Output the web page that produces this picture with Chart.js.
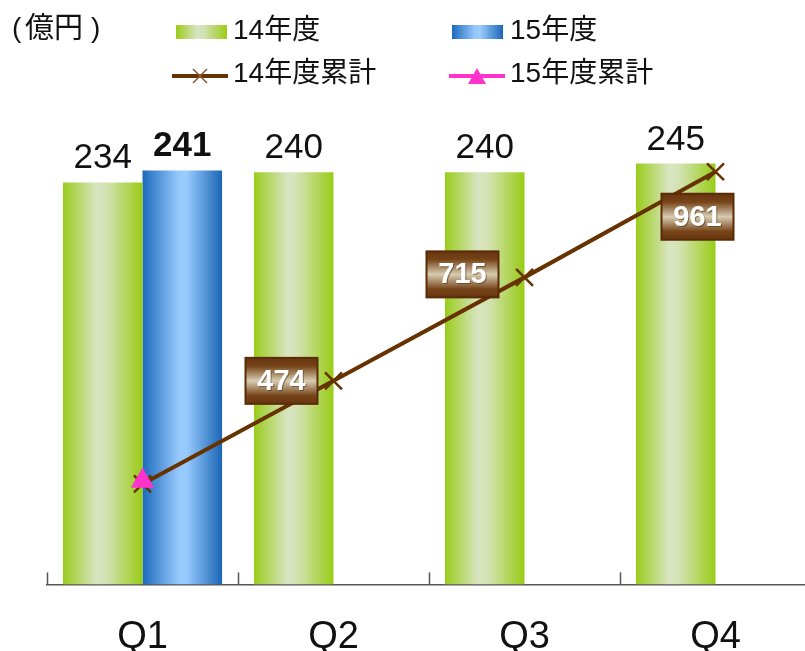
<!DOCTYPE html>
<html lang="ja">
<head>
<meta charset="utf-8">
<script src="https://cdn.jsdelivr.net/npm/chart.js@4.4.1/dist/chart.umd.min.js"></script>
<style>
  html, body { margin: 0; padding: 0; background: #fff; overflow: hidden; }
  #wrap { position: absolute; left: 0; top: 0; width: 830px; height: 710px; }
</style>
</head>
<body>
<div id="wrap"><canvas id="salesChart" width="830" height="710"></canvas></div>
<script>
// quarterly sales (億円) and running totals
const quarters = ['Q1', 'Q2', 'Q3', 'Q4'];
const sales14 = [234, 240, 240, 245];
const sales15 = [241, null, null, null];
const cumulative14 = [234, 474, 715, 961];
const cumulative15 = [241, null, null, null];
const unitLabel = ['(', '億円', ')'];

const FONT = '"Liberation Sans", "Noto Sans CJK JP", sans-serif';
const CAT_PCT = 0.833;

const greenStops = [[0, '#9acc1c'], [0.42, '#d9e4c2'], [0.55, '#d3e2b2'], [1, '#99cc16']];
const blueStops = [[0, '#1c6abd'], [0.45, '#96c8fb'], [0.55, '#99ccff'], [1, '#1b65b6']];
const BROWN = '#663300';
const PINK = '#ff33cc';

// where each running-total box sits relative to its point
const boxOffsets = [null, [-52, 0], [-62, -3], [-18, 45]];

function hGradient(ctx, x0, x1, stops) {
  const g = ctx.createLinearGradient(x0, 0, x1, 0);
  stops.forEach(([p, c]) => g.addColorStop(p, c));
  return g;
}

// bar fill: horizontal gradient across each bar, computed from the category scale
function barFill(stops, side) {
  return (c) => {
    const chart = c.chart;
    const xs = chart.scales && chart.scales.x;
    if (!chart.chartArea || !xs || c.dataIndex === undefined) return stops[1][1];
    const center = xs.getPixelForValue(c.dataIndex);
    const slot = xs.width / quarters.length * CAT_PCT / 2;
    const left = side < 0 ? center - slot : center;
    return hGradient(chart.ctx, left, left + slot, stops);
  };
}

const barLabels = {
  id: 'barLabels',
  afterDatasetsDraw(chart) {
    const ctx = chart.ctx;
    ctx.save();
    ctx.fillStyle = '#111';
    ctx.textAlign = 'center';
    ctx.textBaseline = 'alphabetic';
    chart.data.datasets.forEach((ds, di) => {
      if (ds.type !== 'bar') return;
      ctx.font = (ds.boldLabels ? 'bold ' : '') + '35px ' + FONT;
      chart.getDatasetMeta(di).data.forEach((el, i) => {
        const v = ds.data[i];
        if (v == null) return;
        ctx.fillText(String(v), el.x, el.y - 14);
      });
    });

    // running-total boxes
    const di = chart.data.datasets.findIndex(d => d.label === '14年度累計');
    const meta = chart.getDatasetMeta(di);
    meta.data.forEach((pt, i) => {
      const off = boxOffsets[i];
      if (!off) return;
      const cx = pt.x + off[0], cy = pt.y + off[1];
      const w = 72, h = 46;
      const g = ctx.createLinearGradient(0, cy - h / 2, 0, cy + h / 2);
      g.addColorStop(0, '#683510');
      g.addColorStop(0.18, '#764418');
      g.addColorStop(0.5, '#d8ccb2');
      g.addColorStop(0.82, '#764418');
      g.addColorStop(1, '#683510');
      ctx.fillStyle = g;
      ctx.fillRect(cx - w / 2, cy - h / 2, w, h);
      ctx.strokeStyle = '#5a2c06';
      ctx.lineWidth = 2;
      ctx.strokeRect(cx - w / 2, cy - h / 2, w, h);
      ctx.font = 'bold 29px ' + FONT;
      ctx.textBaseline = 'middle';
      ctx.fillStyle = 'rgba(60,30,0,0.5)';
      ctx.fillText(String(cumulative14[i]), cx + 1, cy + 2);
      ctx.fillStyle = '#fff';
      ctx.fillText(String(cumulative14[i]), cx, cy + 1);
    });
    ctx.restore();
  }
};

// short upward ticks on the category boundaries
const boundaryTicks = {
  id: 'boundaryTicks',
  afterDraw(chart) {
    const xs = chart.scales.x;
    const ctx = chart.ctx;
    const step = xs.getPixelForValue(1) - xs.getPixelForValue(0);
    ctx.save();
    ctx.strokeStyle = '#555';
    ctx.lineWidth = 1.5;
    for (let i = 0; i <= quarters.length; i++) {
      const x = Math.round(xs.getPixelForValue(0) - step / 2 + i * step) + 0.5;
      ctx.beginPath();
      ctx.moveTo(x, xs.top - 12);
      ctx.lineTo(x, xs.top);
      ctx.stroke();
    }
    ctx.restore();
  }
};

const legendBlock = {
  id: 'legendBlock',
  afterDraw(chart) {
    const ctx = chart.ctx;
    ctx.save();
    ctx.fillStyle = '#111';
    ctx.textBaseline = 'middle';
    ctx.textAlign = 'left';
    ctx.font = '28px ' + FONT;
    ctx.fillText(unitLabel[0], 12, 29);
    ctx.font = '29px ' + FONT;
    ctx.fillText(unitLabel[1], 25, 30);
    ctx.font = '28px ' + FONT;
    ctx.fillText(unitLabel[2], 91, 29);

    // bar swatches
    ctx.fillStyle = hGradient(ctx, 176, 227, greenStops);
    ctx.fillRect(176, 25, 51, 14);
    ctx.fillStyle = hGradient(ctx, 452, 503, blueStops);
    ctx.fillRect(452, 25, 51, 14);

    // line swatches
    ctx.lineWidth = 4;
    ctx.strokeStyle = BROWN;
    ctx.beginPath(); ctx.moveTo(172, 76); ctx.lineTo(228, 76); ctx.stroke();
    ctx.lineWidth = 1.5;
    ctx.strokeStyle = '#8a5a30';
    ctx.beginPath();
    ctx.moveTo(193, 69); ctx.lineTo(207, 83);
    ctx.moveTo(207, 69); ctx.lineTo(193, 83);
    ctx.stroke();

    ctx.lineWidth = 4;
    ctx.strokeStyle = PINK;
    ctx.beginPath(); ctx.moveTo(449, 76); ctx.lineTo(505, 76); ctx.stroke();
    ctx.fillStyle = PINK;
    ctx.beginPath();
    ctx.moveTo(477, 68); ctx.lineTo(486, 84); ctx.lineTo(468, 84); ctx.closePath();
    ctx.fill();

    ctx.fillStyle = '#111';
    ctx.fillText('14年度', 233, 31);
    ctx.fillText('15年度', 510, 31);
    ctx.fillText('14年度累計', 233, 74);
    ctx.fillText('15年度累計', 510, 74);
    ctx.restore();
  }
};

new Chart(document.getElementById('salesChart'), {
  type: 'bar',
  data: {
    labels: quarters,
    datasets: [
      {
        type: 'line', label: '15年度累計', data: cumulative15, yAxisID: 'y1', order: 0,
        borderColor: PINK, backgroundColor: PINK, showLine: false,
        pointStyle: 'triangle', pointRadius: 13.5, pointBorderWidth: 0
      },
      {
        type: 'line', label: '14年度累計', data: cumulative14, yAxisID: 'y1', order: 1,
        borderColor: BROWN, borderWidth: 4, backgroundColor: BROWN,
        pointStyle: 'crossRot', pointRadius: 12, pointBorderWidth: 2.5, pointBorderColor: BROWN
      },
      {
        type: 'bar', label: '14年度', data: sales14, yAxisID: 'y', order: 2,
        backgroundColor: barFill(greenStops, -1), borderWidth: 0
      },
      {
        type: 'bar', label: '15年度', data: sales15, yAxisID: 'y', order: 2, boldLabels: true,
        backgroundColor: barFill(blueStops, 1), borderWidth: 0
      }
    ]
  },
  options: {
    responsive: false,
    animation: false,
    devicePixelRatio: 1,
    layout: { padding: { left: 47, top: 155, right: 19, bottom: 20 } },
    datasets: { bar: { barPercentage: 1, categoryPercentage: CAT_PCT } },
    plugins: { legend: { display: false }, tooltip: { enabled: false } },
    scales: {
      x: {
        grid: { display: false, drawTicks: false },
        border: { display: true, color: '#555', width: 1.5 },
        ticks: { color: '#111', padding: 30, font: { family: FONT, size: 38 } }
      },
      y: { display: false, min: 0, max: 250 },
      y1: { display: false, min: 0, max: 1000 }
    }
  },
  plugins: [barLabels, boundaryTicks, legendBlock]
});
</script>
</body>
</html>
